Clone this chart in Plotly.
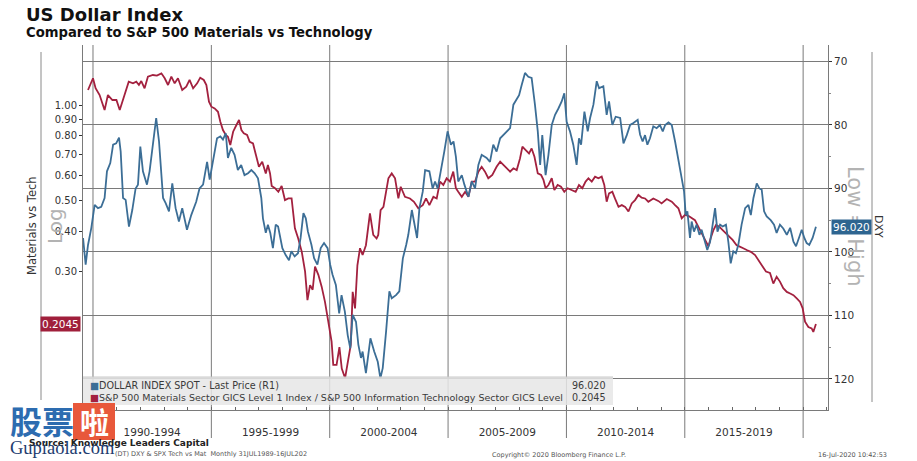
import math
import plotly.graph_objects as go

# ---------------- data ----------------
dxy_t = [1989.58, 1989.69, 1989.79, 1989.93, 1990.07, 1990.21, 1990.35, 1990.49, 1990.59, 1990.73,
         1990.85, 1990.98, 1991.10, 1991.17, 1991.27, 1991.38, 1991.52, 1991.66, 1991.80, 1991.90,
         1992.00, 1992.11, 1992.28, 1992.39, 1992.53, 1992.67, 1992.79, 1992.96, 1993.07, 1993.21,
         1993.35, 1993.49, 1993.63, 1993.77, 1993.97, 1994.15, 1994.36, 1994.50, 1994.65, 1994.82,
         1994.93, 1995.07, 1995.24, 1995.38, 1995.49, 1995.61, 1995.70, 1995.84, 1995.98, 1996.12,
         1996.26, 1996.40, 1996.55, 1996.69, 1996.83, 1996.97, 1997.11, 1997.18, 1997.30, 1997.39,
         1997.49, 1997.60, 1997.72, 1997.82, 1998.00, 1998.14, 1998.28, 1998.38, 1998.52, 1998.66,
         1998.77, 1998.89, 1998.99, 1999.08, 1999.23, 1999.34, 1999.48, 1999.62, 1999.76, 1999.91,
         2000.02, 2000.12, 2000.26, 2000.40, 2000.50, 2000.64, 2000.76, 2000.87, 2000.97, 2001.11,
         2001.21, 2001.32, 2001.39, 2001.53, 2001.72, 2001.88, 2002.03, 2002.14, 2002.24, 2002.38,
         2002.52, 2002.62, 2002.80, 2002.94, 2003.09, 2003.23, 2003.32, 2003.47, 2003.58, 2003.69,
         2003.79, 2003.93, 2004.03, 2004.21, 2004.35, 2004.45, 2004.56, 2004.70, 2004.84, 2004.98,
         2005.12, 2005.23, 2005.33, 2005.43, 2005.58, 2005.69, 2005.86, 2006.00, 2006.14, 2006.28,
         2006.42, 2006.63, 2006.77, 2006.91, 2007.05, 2007.20, 2007.34, 2007.48, 2007.62, 2007.76,
         2007.90, 2008.00, 2008.11, 2008.25, 2008.39, 2008.53, 2008.67, 2008.79, 2008.89, 2008.98,
         2009.12, 2009.24, 2009.38, 2009.52, 2009.66, 2009.80, 2009.91, 2010.01, 2010.15, 2010.29,
         2010.43, 2010.53, 2010.62, 2010.76, 2010.90, 2011.00, 2011.14, 2011.28, 2011.38, 2011.56,
         2011.70, 2011.80, 2011.94, 2012.08, 2012.27, 2012.41, 2012.55, 2012.69, 2012.83, 2013.01,
         2013.11, 2013.22, 2013.32, 2013.42, 2013.53, 2013.67, 2013.81, 2013.95, 2014.07, 2014.17,
         2014.31, 2014.45, 2014.59, 2014.73, 2014.87, 2014.97, 2015.04, 2015.11, 2015.22, 2015.29,
         2015.39, 2015.50, 2015.62, 2015.71, 2015.86, 2015.95, 2016.07, 2016.18, 2016.28, 2016.38,
         2016.49, 2016.60, 2016.74, 2016.84, 2016.94, 2017.05, 2017.16, 2017.26, 2017.40, 2017.55,
         2017.69, 2017.79, 2017.90, 2018.04, 2018.15, 2018.25, 2018.35, 2018.46, 2018.63, 2018.77,
         2018.88, 2019.02, 2019.16, 2019.31, 2019.45, 2019.59, 2019.70, 2019.84, 2019.94, 2020.05,
         2020.15, 2020.26, 2020.40, 2020.54]
dxy_v = [97.8, 102.0, 98.9, 96.2, 92.6, 93.1, 92.9, 91.5, 87.3, 86.0,
         83.1, 82.9, 82.0, 84.2, 91.5, 91.8, 96.0, 93.4, 90.0, 89.4,
         83.4, 87.3, 89.4, 87.3, 83.1, 78.9, 82.6, 91.5, 92.3, 93.6,
         89.2, 93.1, 95.2, 93.1, 96.5, 94.2, 92.1, 90.0, 89.4, 85.8,
         88.6, 85.8, 82.1, 81.8, 82.3, 81.3, 85.2, 83.6, 84.7, 87.1,
         86.3, 87.9, 87.6, 87.1, 87.6, 88.4, 91.5, 94.7, 97.0, 95.7,
         97.0, 99.4, 95.7, 96.0, 99.4, 100.5, 101.3, 99.9, 100.7, 100.2,
         97.8, 93.9, 94.7, 96.8, 98.9, 101.0, 102.0, 99.4, 98.6, 99.4,
         102.0, 103.6, 105.2, 109.7, 106.8, 109.4, 113.1, 115.2, 109.9, 111.0,
         114.6, 116.7, 115.7, 119.1, 113.6, 115.7, 117.3, 119.9, 118.3, 112.6,
         106.2, 107.3, 106.8, 106.2, 101.0, 98.9, 97.3, 93.4, 95.7, 97.8,
         93.1, 90.5, 87.1, 87.3, 90.0, 88.9, 90.0, 87.3, 84.2, 81.0,
         83.1, 82.6, 85.0, 88.9, 87.9, 89.4, 91.3, 88.9, 90.0, 86.3,
         84.7, 85.2, 85.8, 83.1, 84.2, 82.1, 81.6, 81.0, 80.5, 76.8,
         76.0, 75.3, 73.7, 71.8, 72.4, 72.6, 76.8, 81.0, 86.3, 81.6,
         87.9, 84.7, 80.0, 78.4, 77.4, 76.3, 75.0, 79.5, 81.0, 83.1,
         86.3, 82.1, 83.1, 77.9, 81.0, 78.9, 76.8, 73.1, 74.2, 73.9,
         78.4, 76.3, 80.0, 78.7, 78.9, 82.9, 81.6, 80.0, 79.7, 79.2,
         81.5, 82.6, 81.6, 83.1, 82.1, 80.2, 80.5, 80.0, 81.0, 80.0,
         79.6, 80.0, 82.6, 85.8, 88.4, 90.5, 94.2, 93.6, 97.8, 95.2,
         96.8, 95.7, 97.3, 96.5, 98.4, 99.7, 98.4, 95.7, 93.1, 96.8,
         95.7, 96.0, 95.7, 98.4, 101.8, 99.9, 100.2, 98.9, 95.7, 93.1,
         92.6, 94.2, 91.5, 89.2, 90.0, 90.2, 93.6, 94.4, 95.0, 95.7,
         97.0, 95.7, 96.3, 97.3, 96.2, 98.4, 99.1, 97.6, 96.5, 97.8,
         98.6, 98.9, 97.8, 96.02]

ratio_t = [1989.79, 1990.00, 1990.11, 1990.28, 1990.49, 1990.63, 1990.82, 1990.99, 1991.13, 1991.34,
           1991.51, 1991.69, 1991.83, 1991.94, 1992.04, 1992.18, 1992.32, 1992.53, 1992.70, 1992.89,
           1993.03, 1993.17, 1993.31, 1993.45, 1993.59, 1993.77, 1993.94, 1994.08, 1994.23, 1994.40,
           1994.53, 1994.68, 1994.79, 1994.90, 1995.00, 1995.14, 1995.28, 1995.38, 1995.49, 1995.61,
           1995.70, 1995.80, 1995.92, 1996.06, 1996.17, 1996.27, 1996.37, 1996.51, 1996.62, 1996.76,
           1996.90, 1997.01, 1997.15, 1997.30, 1997.39, 1997.48, 1997.55, 1997.69, 1997.83, 1997.97,
           1998.11, 1998.25, 1998.39, 1998.53, 1998.67, 1998.82, 1998.96, 1999.06, 1999.17, 1999.28,
           1999.38, 1999.52, 1999.66, 1999.80, 1999.94, 2000.08, 2000.15, 2000.29, 2000.41, 2000.51,
           2000.65, 2000.79, 2000.89, 2000.97, 2001.07, 2001.17, 2001.28, 2001.39, 2001.53, 2001.70,
           2001.84, 2001.98, 2002.05, 2002.15, 2002.27, 2002.48, 2002.62, 2002.76, 2002.90, 2003.00,
           2003.18, 2003.39, 2003.56, 2003.74, 2003.93, 2004.07, 2004.21, 2004.38, 2004.52, 2004.66,
           2004.80, 2004.94, 2005.08, 2005.22, 2005.33, 2005.43, 2005.58, 2005.72, 2005.86, 2006.00,
           2006.14, 2006.28, 2006.42, 2006.56, 2006.70, 2006.87, 2007.05, 2007.20, 2007.34, 2007.48,
           2007.62, 2007.76, 2007.90, 2008.04, 2008.14, 2008.28, 2008.42, 2008.53, 2008.65, 2008.79,
           2008.93, 2009.03, 2009.12, 2009.24, 2009.38, 2009.49, 2009.63, 2009.77, 2009.91, 2010.05,
           2010.22, 2010.39, 2010.53, 2010.67, 2010.81, 2010.93, 2011.07, 2011.21, 2011.35, 2011.49,
           2011.60, 2011.70, 2011.80, 2011.94, 2012.05, 2012.20, 2012.34, 2012.48, 2012.62, 2012.76,
           2012.90, 2013.04, 2013.18, 2013.32, 2013.46, 2013.67, 2013.88, 2014.02, 2014.24, 2014.45,
           2014.59, 2014.73, 2014.87, 2015.01, 2015.15, 2015.29, 2015.43, 2015.57, 2015.71, 2015.86,
           2016.00, 2016.09, 2016.21, 2016.32, 2016.46, 2016.60, 2016.74, 2016.88, 2017.02, 2017.19,
           2017.33, 2017.47, 2017.64, 2017.79, 2017.97, 2018.11, 2018.25, 2018.43, 2018.60, 2018.74,
           2018.88, 2019.02, 2019.16, 2019.31, 2019.45, 2019.59, 2019.73, 2019.87, 2019.98, 2020.08,
           2020.22, 2020.36, 2020.43, 2020.54]
ratio_v = [1.115, 1.214, 1.129, 1.075, 0.964, 1.075, 1.037, 1.037, 0.964, 1.075,
           1.184, 1.170, 1.184, 1.156, 1.190, 1.129, 1.228, 1.243, 1.237, 1.258,
           1.214, 1.156, 1.228, 1.170, 1.214, 1.115, 1.142, 1.199, 1.129, 1.170,
           1.219, 1.199, 1.156, 1.024, 0.988, 0.976, 0.952, 0.886, 0.834, 0.805,
           0.795, 0.748, 0.824, 0.865, 0.897, 0.834, 0.815, 0.805, 0.766, 0.757,
           0.696, 0.639, 0.663, 0.609, 0.647, 0.609, 0.556, 0.547, 0.533, 0.556,
           0.502, 0.508, 0.508, 0.409, 0.380, 0.345, 0.299, 0.243, 0.271, 0.262,
           0.310, 0.292, 0.268, 0.240, 0.208, 0.180, 0.152, 0.152, 0.173, 0.148,
           0.138, 0.159, 0.176, 0.258, 0.229, 0.313, 0.354, 0.337, 0.362, 0.456,
           0.390, 0.380, 0.390, 0.467, 0.478, 0.588, 0.609, 0.588, 0.508, 0.553,
           0.514, 0.508, 0.496, 0.473, 0.484, 0.508, 0.484, 0.514, 0.508, 0.574,
           0.560, 0.588, 0.574, 0.617, 0.547, 0.533, 0.514, 0.533, 0.514, 0.574,
           0.574, 0.617, 0.639, 0.617, 0.588, 0.602, 0.639, 0.663, 0.647, 0.632,
           0.617, 0.632, 0.624, 0.679, 0.739, 0.721, 0.704, 0.730, 0.687, 0.609,
           0.602, 0.581, 0.547, 0.560, 0.588, 0.540, 0.560, 0.553, 0.533, 0.547,
           0.540, 0.533, 0.560, 0.547, 0.574, 0.588, 0.574, 0.595, 0.588, 0.595,
           0.560, 0.496, 0.527, 0.533, 0.508, 0.478, 0.484, 0.478, 0.462, 0.490,
           0.502, 0.521, 0.511, 0.508, 0.496, 0.508, 0.499, 0.490, 0.506, 0.496,
           0.484, 0.473, 0.440, 0.451, 0.448, 0.440, 0.434, 0.414, 0.395, 0.380,
           0.359, 0.380, 0.404, 0.419, 0.414, 0.404, 0.395, 0.384, 0.376, 0.362,
           0.359, 0.354, 0.349, 0.345, 0.337, 0.325, 0.313, 0.299, 0.296, 0.274,
           0.288, 0.278, 0.265, 0.258, 0.255, 0.252, 0.246, 0.240, 0.229, 0.208,
           0.200, 0.198, 0.193, 0.2045]

period_labels = ["1990-1994", "1995-1999", "2000-2004", "2005-2009", "2010-2014", "2015-2019"]
period_mid = [1992.5, 1997.5, 2002.5, 2007.5, 2012.5, 2017.5]
period_edges = [1990, 1995, 2000, 2005, 2010, 2015, 2020]
left_ticks = [0.30, 0.40, 0.50, 0.60, 0.70, 0.80, 0.90, 1.00]
right_ticks = [70, 80, 90, 100, 110, 120]

dxy_last = dxy_v[-1]
ratio_last = ratio_v[-1]

BLUE = "#3c6e96"
RED = "#a3213f"
GRID = "#7a7a7a"
TXT = "#333333"
FONT = "DejaVu Sans"

# ---------------- layout helpers ----------------
# the page body adds an 8px margin, so the figure is 8px smaller and
# reference pixel positions are converted to paper coordinates below.
W, H = 909, 453
ML, MR, MT, MB = 75, 89, 37, 51
PW, PH = W - ML - MR, H - MT - MB
REF_L, REF_B = 83, 410


def px(x):
    return (x - REF_L) / PW


def py(y):
    return (REF_B - y) / PH


fig = go.Figure()
fig.add_trace(go.Scatter(x=ratio_t, y=ratio_v, mode="lines", yaxis="y",
                         line=dict(color=RED, width=1.8), name="ratio"))
fig.add_trace(go.Scatter(x=dxy_t, y=dxy_v, mode="lines", yaxis="y2",
                         line=dict(color=BLUE, width=1.8), name="DXY"))

shapes = []
for e in period_edges:
    shapes.append(dict(type="line", xref="x", yref="paper", x0=e, x1=e, y0=py(438), y1=1,
                       line=dict(color=GRID, width=1), layer="below"))
# side separators
shapes.append(dict(type="line", xref="paper", yref="paper", x0=px(41), x1=px(41), y0=py(400), y1=py(52),
                   line=dict(color="#8a8a8a", width=1)))
shapes.append(dict(type="line", xref="paper", yref="paper", x0=px(872), x1=px(872), y0=py(402), y1=py(52),
                   line=dict(color="#8a8a8a", width=1)))
# legend box
shapes.append(dict(type="rect", xref="paper", yref="paper", x0=0, x1=px(613), y0=py(405), y1=py(377),
                   fillcolor="#e6e6e6", opacity=0.85, line=dict(width=0), layer="above"))
shapes.append(dict(type="line", xref="paper", yref="paper", x0=0, x1=px(613), y0=py(377), y1=py(377),
                   line=dict(color="#c8c8c8", width=1), layer="above"))
# watermark badge
shapes.append(dict(type="rect", xref="paper", yref="paper", x0=px(73), x1=px(115), y0=py(440), y1=py(403),
                   fillcolor="#e8583b", line=dict(width=0), layer="above"))

ann = []


def text(x, y, s, size=10, color=TXT, xanchor="left", angle=0, bold=False, family=FONT, **kw):
    if bold:
        s = "<b>" + s + "</b>"
    ann.append(dict(xref="paper", yref="paper", x=px(x), y=py(y), text=s, showarrow=False,
                    xanchor=xanchor, yanchor="middle", textangle=angle,
                    font=dict(size=size, color=color, family=family), **kw))


text(24, 15, "US Dollar Index", size=18, color="#111", bold=True)
text(24, 32, "Compared to S&P 500 Materials vs Technology", size=13.2, color="#111", bold=True)
text(32, 226, "Materials vs Tech", size=11.5, xanchor="center", angle=-90)
text(55, 226, "Log", size=20, color="#b3b3b3", xanchor="center", angle=-90)
text(855, 226, "Low = High", size=21, color="#b3b3b3", xanchor="center", angle=90)
text(878, 227, "DXY", size=11, xanchor="center", angle=90)

# legend texts
text(88, 385, "<span style='color:%s'>■</span>DOLLAR INDEX SPOT - Last Price (R1)" % BLUE, size=9.6, color="#3a3a3a")
text(608, 385, "%.3f" % dxy_last, size=9.6, color="#3a3a3a", xanchor="right")
text(88, 397, "<span style='color:%s'>■</span>S&P 500 Materials Sector GICS Level 1 Index / "
               "S&P 500 Information Technology Sector GICS Level" % RED, size=9.5, color="#3a3a3a")
text(608, 397, "%.4f" % ratio_last, size=9.6, color="#3a3a3a", xanchor="right")

# last value tags
ann.append(dict(xref="paper", yref="y2", x=1, y=dxy_last, text="%.3f" % dxy_last, showarrow=False,
                xanchor="left", yanchor="middle", xshift=3, bgcolor="#2e6590", borderpad=1,
                font=dict(size=10.5, color="white", family=FONT)))
ann.append(dict(xref="paper", yref="y", x=0, y=math.log10(ratio_last), text="%.4f" % ratio_last,
                showarrow=False, xanchor="right", yanchor="middle", xshift=-2, bgcolor="#a01f3b",
                borderpad=1, font=dict(size=10.5, color="white", family=FONT)))

# footer
text(27, 443, "Source: Knowledge Leaders Capital", size=9, color="#222", bold=True)
text(113, 454, "(DT) DXY & SPX Tech vs Mat  Monthly 31JUL1989-16JUL202", size=6.5, color="#555")
text(559, 455, "Copyright© 2020 Bloomberg Finance L.P.", size=6.5, color="#555", xanchor="center")
text(852, 455, "16-Jul-2020 10:42:53", size=6.5, color="#555", xanchor="center")

# watermark
text(8, 420, "<b>股票</b>", size=32, color="#2d6cb0", family="Noto Sans CJK SC")
text(94, 421, "<b>啦</b>", size=29, color="white", xanchor="center", family="Noto Sans CJK SC")
text(8, 448, "Gupiaola.com", size=18.5, color="#1d3c6f", family="Liberation Serif")

fig.update_layout(
    width=W, height=H,
    margin=dict(l=ML, r=MR, t=MT, b=MB, pad=0),
    paper_bgcolor="white", plot_bgcolor="white",
    showlegend=False,
    font=dict(family=FONT, size=10, color=TXT),
    xaxis=dict(range=[1989.578, 2021.05], tickmode="array", tickvals=period_mid, ticktext=period_labels,
               ticks="", showgrid=False, zeroline=False, showline=True, linecolor=GRID, linewidth=1,
               tickfont=dict(size=10.5, color=TXT), ticklabelstandoff=12,
               minor=dict(tickmode="linear", tick0=1990, dtick=1, ticks="inside", ticklen=3,
                          tickcolor="#666", showgrid=False)),
    yaxis=dict(type="log", range=[math.log10(0.1096), math.log10(1.545)], tickmode="array",
               tickvals=left_ticks, ticktext=["%.2f" % v for v in left_ticks], ticks="outside",
               ticklen=3, tickcolor=TXT, showgrid=False, zeroline=False, showline=True,
               linecolor=GRID, linewidth=1, tickfont=dict(size=10, color=TXT)),
    yaxis2=dict(overlaying="y", side="right", range=[124.9, 67.4], tickmode="array",
                tickvals=right_ticks, ticks="outside", ticklen=3, tickcolor=TXT, showgrid=True,
                gridcolor=GRID, gridwidth=1, zeroline=False, showline=True, linecolor=GRID,
                linewidth=1, tickfont=dict(size=10.5, color=TXT),
                minor=dict(tickmode="linear", tick0=75, dtick=10, ticks="outside", ticklen=2,
                           tickcolor="#888", showgrid=False)),
    shapes=shapes,
    annotations=ann,
)

fig.write_html("out.html")
